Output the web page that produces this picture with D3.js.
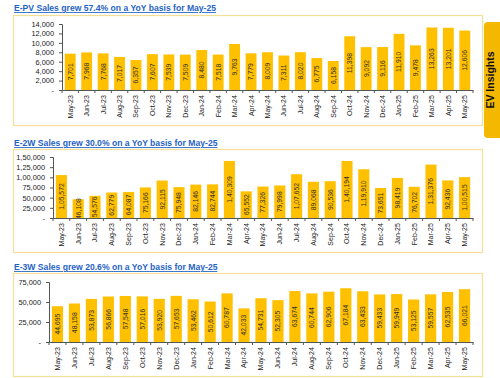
<!DOCTYPE html>
<html>
<head>
<meta charset="utf-8">
<script src="https://cdn.jsdelivr.net/npm/d3@7"></script>
<style>
body { margin: 0; background: #fff; }
svg { display: block; font-family: Arial, "Liberation Sans", sans-serif; }
</style>
</head>
<body>
<div id="chart"></div>
<script>
// months on the x axis
const months = ["May-23","Jun-23","Jul-23","Aug-23","Sep-23","Oct-23","Nov-23","Dec-23",
  "Jan-24","Feb-24","Mar-24","Apr-24","May-24","Jun-24","Jul-24","Aug-24","Sep-24",
  "Oct-24","Nov-24","Dec-24","Jan-25","Feb-25","Mar-25","Apr-25","May-25"];

const pvSales = [7701, 7968, 7768, 7017, 6357, 7607, 7539, 7509, 8480, 7518, 9763, 7779,
  8009, 7311, 8020, 6775, 6158, 11398, 9092, 9116, 11910, 9478, 13263, 13201, 12606];
const w2Sales = [105572, 46108, 54576, 62779, 64087, 75166, 92115, 75948, 82146, 82744,
  140309, 65552, 77326, 79998, 107652, 89068, 90536, 140194, 119910, 73651, 98419,
  76702, 131376, 92436, 100515];
const w3Sales = [44695, 48158, 53873, 56866, 57548, 57016, 53920, 57653, 53462, 50612,
  60787, 42033, 54731, 52305, 63674, 60744, 62906, 67184, 63433, 59433, 59949, 53125,
  59557, 62535, 66021];

const pvTicks = [0, 2000, 4000, 6000, 8000, 10000, 12000, 14000];
const w2Ticks = [0, 25000, 50000, 75000, 100000, 125000, 150000];
const w3Ticks = [0, 25000, 50000, 75000];

const titles = [
  "E-PV Sales grew 57.4% on a YoY basis for May-25",
  "E-2W Sales grew 30.0% on a YoY basis for May-25",
  "E-3W Sales grew 20.6% on a YoY basis for May-25"
];

// indian style grouping: 1,05,572
function inr(n) {
  if (n === 0) return "-";
  let s = String(Math.round(n));
  if (s.length <= 3) return s;
  let last = s.slice(-3), rest = s.slice(0, -3);
  rest = rest.replace(/\B(?=(\d{2})+(?!\d))/g, ",");
  return rest + "," + last;
}

const W = 500, H = 378;
const svg = d3.select("#chart").append("svg")
  .attr("width", W).attr("height", H);

function drawPanel(p, values, ticks, title) {
  // title
  svg.append("text")
    .attr("x", 14).attr("y", p.titleY)
    .attr("font-size", 8.6).attr("font-weight", "bold")
    .attr("fill", "#1f63c6")
    .attr("text-decoration", "underline")
    .text(title);

  // box
  svg.append("rect")
    .attr("x", 13.5).attr("y", p.boxTop + 0.5)
    .attr("width", 469).attr("height", p.boxBottom - p.boxTop)
    .attr("fill", "none").attr("stroke", "#f5df96").attr("stroke-width", 1.2);

  const x = d3.scaleBand().domain(months).range([p.x0, p.x1]).paddingInner(0.34).paddingOuter(0.17);
  const y = d3.scaleLinear().domain([0, d3.max(ticks)]).range([p.y0, p.y1]);

  const g = svg.append("g");

  g.selectAll("rect.bar").data(values).enter().append("rect")
    .attr("class", "bar")
    .attr("x", (d, i) => x(months[i]))
    .attr("y", d => y(d))
    .attr("width", x.bandwidth())
    .attr("height", d => y(0) - y(d))
    .attr("fill", "#ffc000");

  g.selectAll("text.val").data(values).enter().append("text")
    .attr("class", "val")
    .attr("transform", (d, i) => {
      const cx = x(months[i]) + x.bandwidth() / 2;
      const cy = (y(d) + y(0)) / 2;
      return `translate(${cx + 2.4},${cy}) rotate(-90)`;
    })
    .attr("text-anchor", "middle")
    .attr("font-size", 6.8)
    .attr("fill", "#333")
    .text(d => inr(d));

  // y axis
  const yAxis = d3.axisLeft(y).tickValues(ticks).tickSize(3).tickPadding(5).tickFormat(inr);
  const ya = g.append("g").attr("transform", `translate(${p.x0},0)`).call(yAxis);
  ya.select(".domain").attr("stroke", "#555");
  ya.selectAll(".tick line").attr("stroke", "#555");
  ya.selectAll("text").attr("font-size", 7.4).attr("fill", "#222")
    .attr("font-family", "Arial, 'Liberation Sans', sans-serif");

  // x axis
  const xAxis = d3.axisBottom(x).tickSize(0).tickPadding(4);
  const xa = g.append("g").attr("transform", `translate(0,${p.y0})`).call(xAxis);
  xa.select(".domain").attr("stroke", "#555");
  xa.selectAll("text")
    .attr("font-size", 7).attr("fill", "#222")
    .attr("font-family", "Arial, 'Liberation Sans', sans-serif")
    .attr("text-anchor", "end")
    .attr("transform", "rotate(-90)")
    .attr("dx", "-0.3em").attr("dy", "0.35em").attr("y", 0).attr("x", -3);
  // boundary tick marks between months
  const step = x.step();
  xa.selectAll("line.sep").data(d3.range(months.length + 1)).enter().append("line")
    .attr("class", "sep")
    .attr("x1", i => p.x0 + i * step).attr("x2", i => p.x0 + i * step)
    .attr("y1", 0).attr("y2", 3)
    .attr("stroke", "#555");
}

drawPanel({ titleY: 11, boxTop: 15, boxBottom: 125, x0: 62, x1: 473, y0: 90, y1: 24 },
  pvSales, pvTicks, titles[0]);
drawPanel({ titleY: 146, boxTop: 149, boxBottom: 252, x0: 53, x1: 473, y0: 218, y1: 157 },
  w2Sales, w2Ticks, titles[1]);
drawPanel({ titleY: 270, boxTop: 273, boxBottom: 376, x0: 49, x1: 473, y0: 342, y1: 282 },
  w3Sales, w3Ticks, titles[2]);

// side tab
svg.append("rect")
  .attr("x", 484).attr("y", 22).attr("width", 24).attr("height", 116)
  .attr("rx", 4).attr("fill", "#f5b800");
svg.append("text")
  .attr("transform", "translate(494,80) rotate(-90)")
  .attr("text-anchor", "middle")
  .attr("font-size", 10.5).attr("font-weight", "bold")
  .attr("fill", "#111")
  .text("EV Insights");
</script>
</body>
</html>
